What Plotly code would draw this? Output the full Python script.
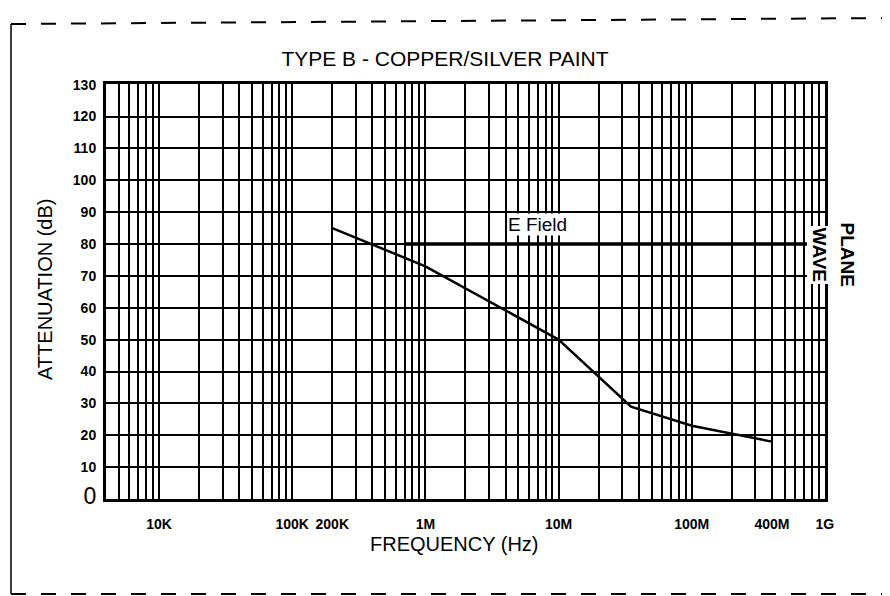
import numpy as np
import plotly.graph_objects as go

# ---- data ----
curve_freq = [2e5, 1e6, 1e7, 3.5e7, 1e8, 4e8]
curve_att = [85, 73, 50, 29, 23, 18]

efield_freq = [7e5, 8e8]
efield_att = [80, 80]

x_tickvals = [1e4, 1e5, 2e5, 1e6, 1e7, 1e8, 4e8, 1e9]
x_ticktext = ["10K", "100K", "200K", "1M", "10M", "100M", "400M", "1G"]

y_tickvals = [0, 10, 20, 30, 40, 50, 60, 70, 80, 90, 100, 110, 120, 130]

# minor grid positions: 1..9 x each decade, starting above 4K
grid_vals = []
for dec in range(3, 9):
    for m in range(1, 10):
        v = m * 10 ** dec
        if 4000 < v <= 1e9:
            grid_vals.append(v)
grid_vals.append(1e9)

FONT = "Liberation Sans, Arial, Helvetica, sans-serif"

fig = go.Figure()
fig.add_trace(go.Scatter(x=curve_freq, y=curve_att, mode="lines",
                         line=dict(color="black", width=2.5), showlegend=False,
                         hoverinfo="skip"))
fig.add_trace(go.Scatter(x=efield_freq, y=efield_att, mode="lines",
                         line=dict(color="black", width=3.5), showlegend=False,
                         hoverinfo="skip"))

# plot-area pixel geometry
W, H = 890, 596
L, R, T, B = 98, 817, 76, 491
pw, ph = R - L, B - T

def px(x):
    return (x - L) / pw

def py(y):
    return (B - y) / ph

fig.update_layout(
    width=W, height=H,
    margin=dict(l=L, r=W - R, t=T, b=H - B),
    paper_bgcolor="white", plot_bgcolor="white",
    font=dict(family=FONT, color="black"),
    title=dict(text="TYPE B - COPPER/SILVER PAINT", x=437 / W, xanchor="center",
               y=1 - 51 / H, yanchor="middle",
               font=dict(family=FONT, size=21, color="black")),
)

fig.update_xaxes(
    type="log", range=[np.log10(4000), 9.0005],
    tickvals=x_tickvals, ticktext=x_ticktext,
    tickfont=dict(family=FONT, size=14, weight=700),
    ticks="outside", ticklen=10, tickcolor="rgba(0,0,0,0)",
    showgrid=True, gridcolor="black", gridwidth=2,
    minor=dict(tickvals=grid_vals, showgrid=True, gridcolor="black",
               gridwidth=1.7, ticks=""),
    showline=True, linecolor="black", linewidth=2.5, mirror=True,
    zeroline=False,
)

y_ticktext = ["<span style='font-size:23px;font-weight:400'>0</span>"] + [str(v) for v in y_tickvals[1:]]
fig.update_yaxes(
    range=[0, 130.2], tickvals=y_tickvals, ticktext=y_ticktext,
    tickfont=dict(family=FONT, size=14, weight=700),
    ticks="outside", ticklen=4, tickcolor="rgba(0,0,0,0)",
    showgrid=True, gridcolor="black", gridwidth=2,
    showline=True, linecolor="black", linewidth=3, mirror=True,
    zeroline=False,
)

# axis titles
fig.add_annotation(x=px(446), y=py(549), xref="paper", yref="paper",
                   text="FREQUENCY (Hz)", showarrow=False,
                   font=dict(family=FONT, size=20))
fig.add_annotation(x=px(24), y=py(282), xref="paper", yref="paper",
                   text="ATTENUATION (dB)", showarrow=False, textangle=-90,
                   font=dict(family=FONT, size=20))

# in-plot labels
fig.add_annotation(x=np.log10(7.0e6), y=86, xref="x", yref="y", text="E Field",
                   showarrow=False, font=dict(family=FONT, size=19),
                   bgcolor="white", borderpad=0)
fig.add_annotation(x=px(851), y=py(247), xref="paper", yref="paper", text="PLANE",
                   showarrow=False, textangle=90,
                   font=dict(family=FONT, size=19, weight=700))
fig.add_annotation(x=px(823), y=py(247), xref="paper", yref="paper", text="WAVE",
                   showarrow=False, textangle=90, bgcolor="white",
                   font=dict(family=FONT, size=19, weight=700))

# outer scanned frame
fx0, fx1, fy0, fy1 = 3, 879, 10, 586
fig.add_shape(type="line", xref="paper", yref="paper", x0=px(fx0), x1=px(fx1),
              y0=py(fy0 + 6), y1=py(fy0), line=dict(color="black", width=2, dash="longdash"))
fig.add_shape(type="line", xref="paper", yref="paper", x0=px(fx0), x1=px(fx1),
              y0=py(fy1), y1=py(fy1), line=dict(color="black", width=2, dash="longdash"))
fig.add_shape(type="line", xref="paper", yref="paper", x0=px(fx0), x1=px(fx0),
              y0=py(fy0 + 6), y1=py(fy1), line=dict(color="black", width=1.5))
fig.add_shape(type="line", xref="paper", yref="paper", x0=px(fx1), x1=px(fx1),
              y0=py(fy0), y1=py(fy1), line=dict(color="black", width=2))

fig.write_html("out.html")
